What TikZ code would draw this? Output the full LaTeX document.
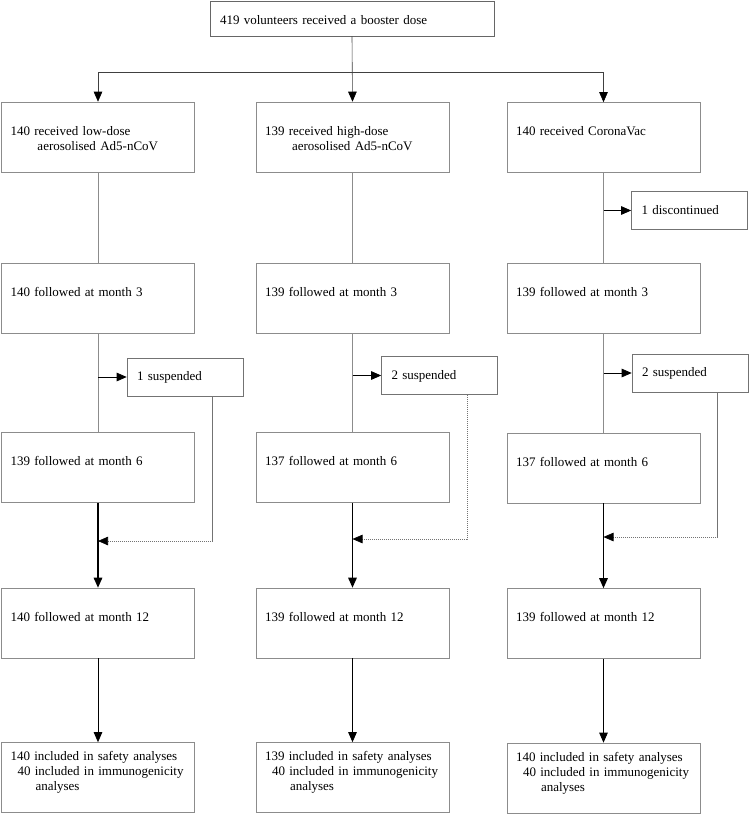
\documentclass[tikz,border=0pt]{standalone}
\usepackage{fontspec}
\setmainfont{Liberation Serif}
\usetikzlibrary{arrows.meta}
\tikzstyle{topbox} = [rectangle, draw=black!60, line width=0.6pt, text width=264pt, inner xsep=10pt, inner ysep=4pt, text height=19pt, text depth=8pt, align=left]
\tikzstyle{stage} = [rectangle, draw=black!45, line width=0.6pt, text width=175pt, inner xsep=9pt, inner ysep=4pt, text height=29pt, text depth=33pt, align=left]
\tikzstyle{final} = [stage, text height=14pt, text depth=48pt]
\tikzstyle{side} = [rectangle, draw=black!55, line width=0.6pt, text width=96pt, inner xsep=10pt, inner ysep=4pt, text height=18.5pt, text depth=11.5pt, align=left]
\tikzstyle{arrow} = [line width=0.8pt, -{Triangle[length=10pt,width=8.5pt]}]
\tikzstyle{splitarrow} = [line width=0.6pt, draw=black!75, -{Triangle[length=10pt,width=8.5pt,color=black]}]
\tikzstyle{thickarrow} = [arrow, line width=1.4pt]
\tikzstyle{link} = [line width=0.6pt, draw=black!45]
\tikzstyle{dasharrow} = [line width=0.6pt, draw=black!55, dash pattern=on 1.2pt off 0.8pt, -{Triangle[length=10pt,width=8.5pt,color=black]}]

\begin{document}
\begin{tikzpicture}[font=\fontsize{13pt}{15pt}\selectfont]
  \useasboundingbox (0,0) rectangle (750pt,-815pt);

  \node (top) [topbox] at (352pt,-18.5pt) {419 volunteers received a booster dose};
  \coordinate (split) at (352pt,-72pt);

  % low-dose arm
  \node (a0) [stage] at (98pt,-137pt) {140 received low-dose\\\hspace*{27pt}aerosolised Ad5-nCoV};
  \node (a3) [stage, node distance=161pt, below of=a0] {140 followed at month 3};
  \node (a6) [stage, node distance=169.5pt, below of=a3] {139 followed at month 6};
  \node (a12) [stage, node distance=155.5pt, below of=a6] {140 followed at month 12};
  \node (af) [final, node distance=154.5pt, below of=a12] {140 included in safety analyses\\\hspace*{7pt}40 included in immunogenicity\\\hspace*{25pt}analyses};
  \node (s1) [side] at (185pt,-377pt) {1 suspended};
  \coordinate (m1) at (98pt,-541pt);

  % high-dose arm
  \node (b0) [stage] at (352.5pt,-137pt) {139 received high-dose\\\hspace*{27pt}aerosolised Ad5-nCoV};
  \node (b3) [stage, node distance=161pt, below of=b0] {139 followed at month 3};
  \node (b6) [stage, node distance=169.5pt, below of=b3] {137 followed at month 6};
  \node (b12) [stage, node distance=155.5pt, below of=b6] {139 followed at month 12};
  \node (bf) [final, node distance=154.5pt, below of=b12] {139 included in safety analyses\\\hspace*{7pt}40 included in immunogenicity\\\hspace*{25pt}analyses};
  \node (s2) [side] at (439.5pt,-375.5pt) {2 suspended};
  \coordinate (m2) at (352.5pt,-539pt);

  % CoronaVac arm
  \node (c0) [stage] at (603.5pt,-137.5pt) {140 received CoronaVac};
  \node (c3) [stage, node distance=161pt, below of=c0] {139 followed at month 3};
  \node (c6) [stage, node distance=169.5pt, below of=c3] {137 followed at month 6};
  \node (c12) [stage, node distance=155.5pt, below of=c6] {139 followed at month 12};
  \node (cf) [final, node distance=154.5pt, below of=c12] {140 included in safety analyses\\\hspace*{7pt}40 included in immunogenicity\\\hspace*{25pt}analyses};
  \node (d3) [side] at (689.5pt,-210.5pt) {1 discontinued};
  \node (s3) [side] at (690pt,-373pt) {2 suspended};
  \coordinate (m3) at (603.5pt,-537pt);

  \draw [splitarrow] (top.south) -- (b0.north);
  \draw [splitarrow] (split) -| (a0.north);
  \draw [splitarrow] (split) -| (c0.north);

  \draw [link] (a0) -- (a3);
  \draw [link] (a3) -- (a6);
  \draw [arrow] (a3 |- s1.west) -- (s1.west);
  \draw [dasharrow] ([xshift=-31pt]s1.south east) |- (m1);
  \draw [thickarrow] (a6) -- (a12);
  \draw [arrow] (a12) -- (af);

  \draw [link] (b0) -- (b3);
  \draw [link] (b3) -- (b6);
  \draw [arrow] (b3 |- s2.west) -- (s2.west);
  \draw [dasharrow] ([xshift=-31pt]s2.south east) |- (m2);
  \draw [thickarrow] (b6) -- (b12);
  \draw [arrow] (b12) -- (bf);

  \draw [link] (c0) -- (c3);
  \draw [arrow] (c0 |- d3.west) -- (d3.west);
  \draw [link] (c3) -- (c6);
  \draw [arrow] (c3 |- s3.west) -- (s3.west);
  \draw [dasharrow] ([xshift=-31pt]s3.south east) |- (m3);
  \draw [thickarrow] (c6) -- (c12);
  \draw [arrow] (c12) -- (cf);
\end{tikzpicture}
\end{document}
